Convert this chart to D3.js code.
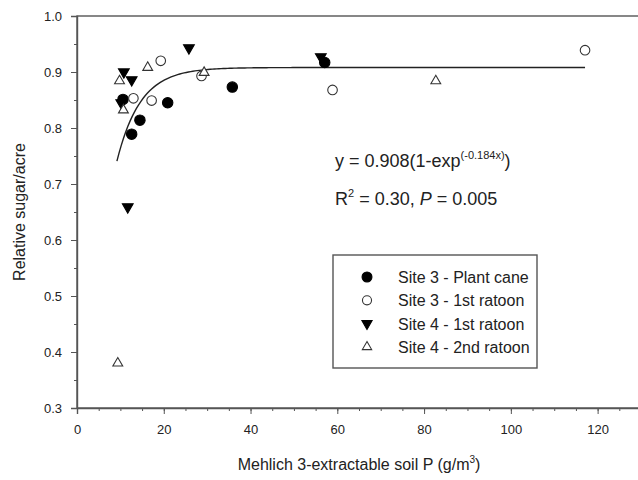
<!DOCTYPE html>
<html>
<head>
<meta charset="utf-8">
<script src="https://cdn.jsdelivr.net/npm/d3@7"></script>
<style>
  body { margin: 0; background: #fff; }
  text { font-family: "Liberation Sans", Arial, sans-serif; fill: #222; }
</style>
</head>
<body>
<div id="chart"></div>
<script>
// values
var plantCaneX = [10.6, 12.6, 14.5, 20.9, 35.8, 57.1];
var plantCaneY = [0.851, 0.789, 0.814, 0.845, 0.873, 0.917];
var site3RatoonX = [13.0, 17.2, 19.3, 28.7, 58.9, 117.1];
var site3RatoonY = [0.853, 0.849, 0.920, 0.893, 0.868, 0.939];
var site4RatoonX = [10.2, 10.8, 11.7, 12.6, 25.8, 56.2];
var site4RatoonY = [0.845, 0.900, 0.659, 0.886, 0.943, 0.927];
var site4SecondX = [9.4, 9.8, 10.7, 16.3, 29.3, 82.7];
var site4SecondY = [0.380, 0.884, 0.832, 0.908, 0.899, 0.884];

var seriesNames = ["Site 3 - Plant cane", "Site 3 - 1st ratoon", "Site 4 - 1st ratoon", "Site 4 - 2nd ratoon"];
var xTicks = [0, 20, 40, 60, 80, 100, 120];
var yTicks = [0.3, 0.4, 0.5, 0.6, 0.7, 0.8, 0.9, 1.0];

// fitted curve y = a(1-exp(-b x))
var fitA = 0.908, fitB = 0.184;
var fitStart = 9.2, fitEnd = 117.1;

var margin = {top: 16, right: -3, bottom: 72, left: 77},
    width = 638 - margin.left - margin.right,
    height = 480 - margin.top - margin.bottom;

var svg = d3.select("#chart")
    .append("svg")
        .attr("width", 638)
        .attr("height", 480)
    .append("g")
        .attr("transform", "translate(" + margin.left + "," + margin.top + ")");

var x = d3.scaleLinear().domain([0, 130]).range([0, width]);
var y = d3.scaleLinear().domain([0.3, 1.0]).range([height, 0]);

// frame
svg.append("rect")
    .attr("width", width)
    .attr("height", height)
    .attr("fill", "none")
    .attr("stroke", "#555")
    .attr("stroke-width", 1.4);

// x axis: major and minor ticks
svg.append("g")
    .attr("transform", "translate(0," + height + ")")
    .call(d3.axisBottom(x).tickValues(d3.range(0, 131, 5)).tickSize(3).tickFormat(""))
    .call(function(g) { g.select(".domain").remove(); g.selectAll("line").attr("stroke", "#555"); });

var xAxis = svg.append("g")
    .attr("transform", "translate(0," + height + ")")
    .call(d3.axisBottom(x).tickValues(xTicks).tickSize(6).tickPadding(11).tickFormat(d3.format("d")));
xAxis.select(".domain").attr("stroke", "#555").attr("stroke-width", 1.4);
xAxis.selectAll("line").attr("stroke", "#555");
xAxis.selectAll("text").style("font-size", "13px").attr("fill", "#333");

// y axis
svg.append("g")
    .call(d3.axisLeft(y).tickValues(d3.range(0.3, 1.0001, 0.05)).tickSize(3).tickFormat(""))
    .call(function(g) { g.select(".domain").remove(); g.selectAll("line").attr("stroke", "#555"); });

var yAxis = svg.append("g")
    .call(d3.axisLeft(y).tickValues(yTicks).tickSize(6).tickPadding(9).tickFormat(d3.format(".1f")));
yAxis.select(".domain").attr("stroke", "#555").attr("stroke-width", 1.4);
yAxis.selectAll("line").attr("stroke", "#555");
yAxis.selectAll("text").style("font-size", "13px").attr("fill", "#333");

// axis titles
svg.append("text")
    .attr("transform", "rotate(-90)")
    .attr("x", -height / 2)
    .attr("y", -52)
    .attr("text-anchor", "middle")
    .style("font-size", "16px")
    .text("Relative sugar/acre");

var xt = svg.append("text")
    .attr("x", width / 2)
    .attr("y", height + 62)
    .attr("text-anchor", "middle")
    .style("font-size", "16px");
xt.append("tspan").text("Mehlich 3-extractable soil P (g/m");
xt.append("tspan").attr("dy", -7).style("font-size", "10px").text("3");
xt.append("tspan").attr("dy", 7).text(")");

// fitted line
var fitX = d3.range(fitStart, fitEnd, 0.5).concat([fitEnd]);
var line = d3.line()
    .x(function(d) { return x(d); })
    .y(function(d) { return y(fitA * (1 - Math.exp(-fitB * d))); });

svg.append("path")
    .datum(fitX)
    .attr("d", line)
    .attr("fill", "none")
    .attr("stroke", "#222")
    .attr("stroke-width", 1.4);

// markers
var styles = [
    {type: d3.symbolCircle, size: 85, fill: "#000", stroke: "#000", rot: 0},
    {type: d3.symbolCircle, size: 72, fill: "#fff", stroke: "#333", rot: 0},
    {type: d3.symbolTriangle, size: 50, fill: "#000", stroke: "#000", rot: 180},
    {type: d3.symbolTriangle, size: 42, fill: "#fff", stroke: "#333", rot: 0}
];
var seriesX = [plantCaneX, site3RatoonX, site4RatoonX, site4SecondX];
var seriesY = [plantCaneY, site3RatoonY, site4RatoonY, site4SecondY];

function drawSeries(i) {
    var st = styles[i];
    var pts = seriesX[i].map(function(v, j) { return [v, seriesY[i][j]]; });
    svg.append("g").selectAll("path")
        .data(pts)
        .enter()
        .append("path")
        .attr("d", d3.symbol().type(st.type).size(st.size))
        .attr("transform", function(d) {
            return "translate(" + x(d[0]) + "," + y(d[1]) + ") rotate(" + st.rot + ")";
        })
        .attr("fill", st.fill)
        .attr("stroke", st.stroke)
        .attr("stroke-width", 1.1);
}
[2, 0, 1, 3].forEach(drawSeries);

// equation
var eq = svg.append("text")
    .attr("x", 258)
    .attr("y", 151)
    .style("font-size", "18px");
eq.append("tspan").text("y = 0.908(1-exp");
eq.append("tspan").attr("dy", -8).style("font-size", "11px").text("(-0.184x)");
eq.append("tspan").attr("dy", 8).text(")");

var r2 = svg.append("text")
    .attr("x", 258)
    .attr("y", 189)
    .style("font-size", "18px");
r2.append("tspan").text("R");
r2.append("tspan").attr("dy", -8).style("font-size", "11px").text("2");
r2.append("tspan").attr("dy", 8).text(" = 0.30, ");
r2.append("tspan").style("font-style", "italic").text("P");
r2.append("tspan").text(" = 0.005");

// legend
var legend = svg.append("g").attr("transform", "translate(256,239)");
legend.append("rect")
    .attr("width", 204)
    .attr("height", 113)
    .attr("fill", "#fff")
    .attr("stroke", "#555")
    .attr("stroke-width", 1.4);

seriesNames.forEach(function(name, i) {
    var st = styles[i];
    var row = legend.append("g").attr("transform", "translate(0," + (22 + i * 23.3) + ")");
    row.append("path")
        .attr("d", d3.symbol().type(st.type).size(st.size * 0.9))
        .attr("transform", "translate(34,0) rotate(" + st.rot + ")")
        .attr("fill", st.fill)
        .attr("stroke", st.stroke)
        .attr("stroke-width", 1.1);
    row.append("text")
        .attr("x", 65)
        .attr("y", 6)
        .style("font-size", "16px")
        .text(name);
});
</script>
</body>
</html>
